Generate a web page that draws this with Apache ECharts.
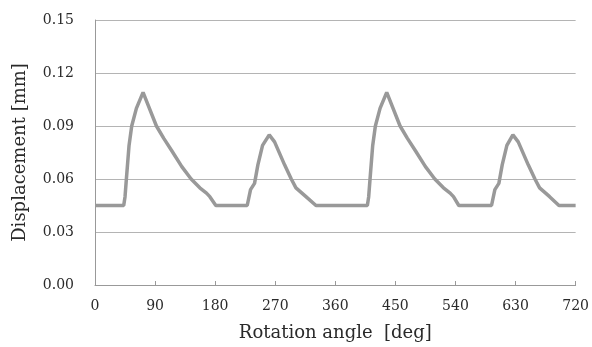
<!DOCTYPE html>
<html>
<head>
<meta charset="utf-8">
<script src="https://cdn.jsdelivr.net/npm/echarts@6/dist/echarts.min.js"></script>
<style>
  html, body { margin: 0; padding: 0; background: #fff; }
  #chart { width: 592px; height: 347px; }
</style>
</head>
<body>
<div id="chart"></div>
<script>
// rotation angle [deg] and displacement [mm]
const angles = [
  0, 43, 45, 47, 51, 55, 62, 72, 92, 103, 115, 130, 144, 157, 167, 172, 181,
  228, 233, 239, 244, 251, 261, 269, 284, 294, 301, 316, 331,
  408, 410, 412, 416, 420, 427, 437, 457, 468, 480, 495, 509, 522, 532, 537, 545,
  594, 599, 605, 610, 617, 626, 634, 649, 659, 666, 681, 695, 720
]
const displacement = [
  0.045, 0.045, 0.050, 0.060, 0.079, 0.090, 0.100, 0.109, 0.090, 0.083, 0.076, 0.067, 0.060, 0.055, 0.052, 0.050, 0.045,
  0.045, 0.054, 0.0575, 0.068, 0.079, 0.085, 0.081, 0.068, 0.060, 0.055, 0.050, 0.045,
  0.045, 0.050, 0.060, 0.079, 0.090, 0.100, 0.109, 0.090, 0.083, 0.076, 0.067, 0.060, 0.055, 0.052, 0.050, 0.045,
  0.045, 0.054, 0.0575, 0.068, 0.079, 0.085, 0.081, 0.068, 0.060, 0.055, 0.050, 0.045, 0.045
]

const font = 'DejaVu Serif'
const textColor = '#2a2a2a'
const gridColor = '#b4b4b4'

const myChart = echarts.init(document.getElementById('chart'))
myChart.setOption({
    animation: false,
    grid: { left: 95, right: 15, top: 20, bottom: 59 },
    xAxis: {
        type: 'value',
        min: 0, max: 720, interval: 90,
        name: 'Rotation angle  [deg]',
        nameLocation: 'middle',
        nameGap: 39,
        nameTextStyle: { fontFamily: font, fontSize: 18, color: textColor },
        axisLine: { show: true, lineStyle: { color: '#999', width: 1 } },
        axisTick: { show: true, inside: true, length: 4, lineStyle: { color: '#999' } },
        axisLabel: { fontFamily: font, fontSize: 14, color: textColor, margin: 14 },
        splitLine: { show: false }
    },
    yAxis: {
        type: 'value',
        min: 0, max: 0.15, interval: 0.03,
        name: 'Displacement [mm]',
        nameLocation: 'middle',
        nameGap: 66,
        nameTextStyle: { fontFamily: font, fontSize: 18, color: textColor },
        axisLine: { show: true, lineStyle: { color: '#999', width: 1 } },
        axisTick: { show: false },
        axisLabel: { fontFamily: font, fontSize: 14, color: textColor, margin: 21, formatter: v => v.toFixed(2) },
        splitLine: { show: true, lineStyle: { color: gridColor, width: 1 } }
    },
    series: [{
        type: 'line',
        data: angles.map((a, i) => [a, displacement[i]]),
        showSymbol: false,
        lineStyle: { color: '#999', width: 3.5 },
        itemStyle: { color: '#999' }
    }]
})
</script>
</body>
</html>
